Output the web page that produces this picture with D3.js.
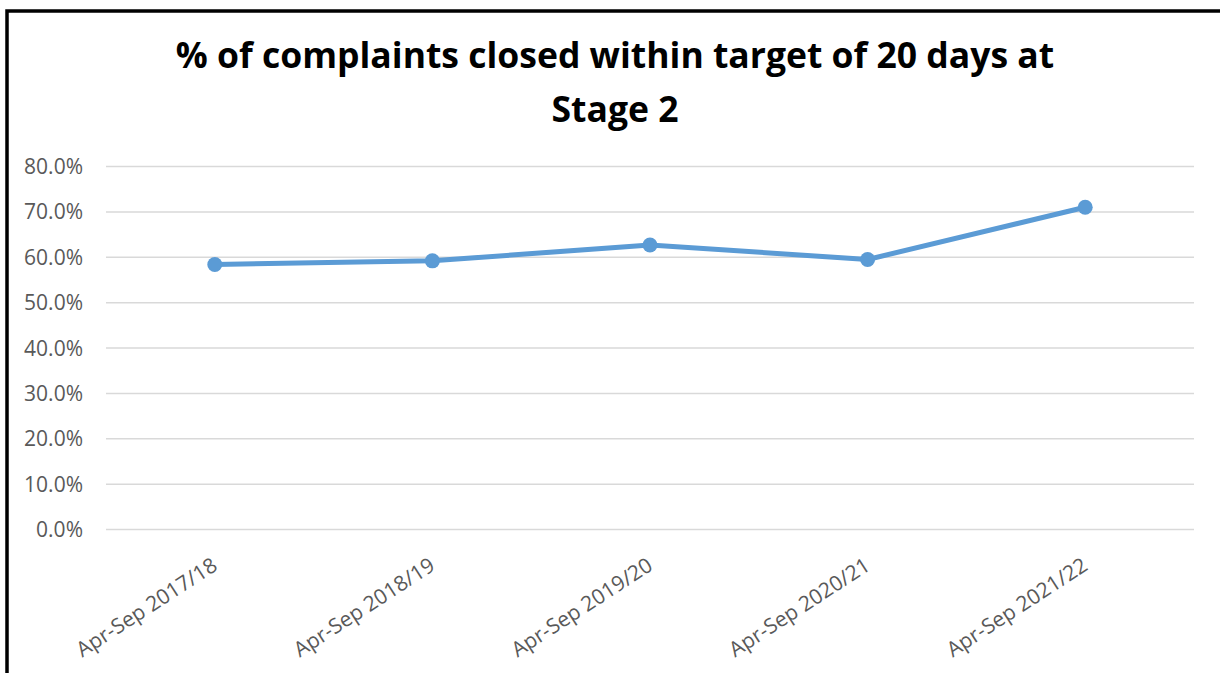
<!DOCTYPE html>
<html lang="en">
<head>
    <title>% of complaints closed within target - Stage 2</title>
    <meta charset="utf-8">
    <script src="https://d3js.org/d3.v7.min.js" charset="utf-8"></script>
	<style type="text/css">
body {
	margin: 0;
	background: white;
}
</style>
</head>
<body>
<div id="chart"></div>
<script>

// data
var periods = ["Apr-Sep 2017/18", "Apr-Sep 2018/19", "Apr-Sep 2019/20", "Apr-Sep 2020/21", "Apr-Sep 2021/22"];
var closedPct = [0.583, 0.591, 0.626, 0.594, 0.709];
var yTicks = [0, 0.1, 0.2, 0.3, 0.4, 0.5, 0.6, 0.7, 0.8];
var titleLines = ["% of complaints closed within target of 20 days at", "Stage 2"];

var W = 1220, H = 673;
var margin = {top: 166, right: 26, bottom: 144, left: 106},
    width = W - margin.left - margin.right,
    height = H - margin.top - margin.bottom;

var svg = d3.select("#chart")
  .append("svg")
    .attr("width", W)
    .attr("height", H);

// frame (top and left edges only visible)
svg.append("path")
    .attr("d", "M7,673 L7,11 L1220,11")
    .attr("fill", "none")
    .attr("stroke", "black")
    .attr("stroke-width", 3.5);

// title
svg.append("g").selectAll("text")
  .data(titleLines)
  .enter().append("text")
    .attr("x", 615)
    .attr("y", function(d, i) { return 68 + i * 54; })
    .attr("text-anchor", "middle")
    .attr("font-family", "'Open Sans', sans-serif")
    .attr("font-weight", "bold")
    .attr("font-size", 35.5)
    .attr("fill", "black")
    .text(function(d) { return d; });

var g = svg.append("g")
    .attr("transform", "translate(" + margin.left + "," + margin.top + ")");

var x = d3.scaleBand().domain(periods).range([0, width]);
var y = d3.scaleLinear().domain([0, 0.8]).range([height, 0]);

// Y axis with gridlines
var yAxis = g.append("g")
    .call(d3.axisLeft(y).tickValues(yTicks).tickSize(-width).tickPadding(23).tickFormat(d3.format(".1%")));
yAxis.select(".domain").remove();
yAxis.selectAll(".tick line")
    .attr("stroke", "#d9d9d9")
    .attr("stroke-width", 1.5);
yAxis.selectAll(".tick text")
    .attr("font-family", "'Open Sans', sans-serif")
    .attr("font-size", 21)
    .attr("fill", "#595959")
    .attr("dy", "0.36em");

// X axis labels, rotated
var xAxis = g.append("g")
    .attr("transform", "translate(0," + height + ")")
    .call(d3.axisBottom(x).tickSize(0).tickPadding(0));
xAxis.select(".domain").remove();
xAxis.selectAll(".tick text")
    .attr("font-family", "'Open Sans', sans-serif")
    .attr("font-size", 21)
    .attr("fill", "#595959")
    .attr("text-anchor", "end")
    .attr("y", 0)
    .attr("dy", 0)
    .attr("transform", "translate(4,40) rotate(-33)");

// line
var line = d3.line()
    .x(function(d, i) { return x(periods[i]) + x.bandwidth() / 2; })
    .y(function(d) { return y(d); });

g.append("path")
    .datum(closedPct)
    .attr("fill", "none")
    .attr("stroke", "#5b9bd5")
    .attr("stroke-width", 5)
    .attr("stroke-linejoin", "round")
    .attr("d", line);

// markers
g.selectAll("circle")
  .data(closedPct)
  .enter().append("circle")
    .attr("cx", function(d, i) { return x(periods[i]) + x.bandwidth() / 2; })
    .attr("cy", function(d) { return y(d); })
    .attr("r", 7.5)
    .attr("fill", "#5b9bd5");

</script>
</body>
</html>
